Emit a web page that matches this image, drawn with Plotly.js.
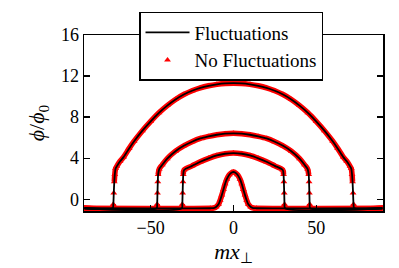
<!DOCTYPE html>
<html>
<head>
<meta charset="utf-8">
<script src="https://cdn.plot.ly/plotly-3.0.1.min.js"></script>
<style>html,body{margin:0;padding:0;background:#fff;}#chart{width:399px;height:268px;}</style>
</head>
<body>
<div id="chart"></div>
<script>
// Curve 1: narrow central bump
const bumpX = [-90, -14, -12, -10.5, -9, -8, -7, -6, -5, -4, -2.5, -1, 0, 1, 2.5, 4, 5, 6, 7, 8, 9, 10.5, 12, 14, 90];
const bumpY = [-0.88, -0.88, -0.86, -0.75, -0.5, -0.1, 0.4, 0.95, 1.5, 1.95, 2.38, 2.6, 2.65, 2.6, 2.38, 1.95, 1.5, 0.95, 0.4, -0.1, -0.5, -0.75, -0.86, -0.88, -0.88];

// Curve 2: inner dome (edges near ±31)
const innerX = [-90, -31.2, -30.9, -30.7, -30.5, -30.3, -29.8, -25, -20, -15, -10, -5, 0, 5, 10, 15, 20, 25, 29.8, 30.3, 30.5, 30.7, 30.9, 31.2, 90];
const innerY = [-0.88, -0.88, -0.5, 0.6, 1.7, 2.4, 2.85, 3.25, 3.65, 3.98, 4.26, 4.43, 4.49, 4.43, 4.26, 3.98, 3.65, 3.25, 2.85, 2.4, 1.7, 0.6, -0.5, -0.88, -0.88];

// Curve 3: middle dome (edges near ±46)
const midX = [-90, -46.4, -46.1, -45.9, -45.7, -45.5, -44.8, -43, -40, -35, -30, -25, -20, -15, -10, -5, 0, 5, 10, 15, 20, 25, 30, 35, 40, 43, 44.8, 45.5, 45.7, 45.9, 46.1, 46.4, 90];
const midY = [-0.88, -0.88, -0.5, 0.6, 1.7, 2.4, 2.95, 3.35, 3.95, 4.68, 5.2, 5.6, 5.92, 6.12, 6.28, 6.38, 6.42, 6.38, 6.28, 6.12, 5.92, 5.6, 5.2, 4.68, 3.95, 3.35, 2.95, 2.4, 1.7, 0.6, -0.5, -0.88, -0.88];

// Curve 4: outer dome (edges near ±72)
const outerX = [-90, -73, -72.6, -72.3, -72, -71.7, -71.2, -70.5, -68.5, -66.4, -63, -60, -55, -50, -45, -40, -35, -30, -25, -20, -15, -10, -5, 0, 5, 10, 15, 20, 25, 30, 35, 40, 45, 50, 55, 60, 63, 66.4, 68.5, 70.5, 71.2, 71.7, 72, 72.3, 72.6, 73, 90];
const outerY = [-0.88, -0.88, -0.5, 0.6, 1.7, 2.4, 3.0, 3.2, 3.7, 4.1, 4.95, 5.65, 6.68, 7.59, 8.42, 9.12, 9.72, 10.2, 10.57, 10.85, 11.05, 11.19, 11.28, 11.31, 11.28, 11.19, 11.05, 10.85, 10.57, 10.2, 9.72, 9.12, 8.42, 7.59, 6.68, 5.65, 4.95, 4.1, 3.7, 3.2, 3.0, 2.4, 1.7, 0.6, -0.5, -0.88, -0.88];

const xTicks = [-50, 0, 50];
const yTicks = [0, 4, 8, 12, 16];

const curves = [[bumpX, bumpY], [innerX, innerY], [midX, midY], [outerX, outerY]];

// band copy of a curve: break it where the curve drops steeply
function bandOf(xs, ys) {
  const bx = [], by = [];
  for (let i = 0; i < xs.length; i++) {
    if (i > 0) {
      const s = Math.abs((ys[i] - ys[i-1]) / (xs[i] - xs[i-1]));
      if (s > 3) { bx.push(null); by.push(null); }
    }
    bx.push(xs[i]); by.push(ys[i]);
  }
  return [bx, by];
}

const traces = [];
curves.forEach((c, k) => {
  const b = bandOf(c[0], c[1]);
  traces.push({x: b[0], y: b[1], type: 'scatter', mode: 'lines', connectgaps: false,
    line: {color: '#ff0000', width: 5.5, shape: 'spline', smoothing: 0.8}, showlegend: false, hoverinfo: 'skip'});
});
curves.forEach((c, k) => {
  traces.push({x: c[0], y: c[1], type: 'scatter', mode: 'markers', name: 'No Fluctuations',
    legendgroup: 'nf', showlegend: k === 0, legendrank: 2,
    marker: {symbol: 'triangle-up', size: 6, color: '#ff0000'}});
});
curves.forEach((c, k) => {
  traces.push({x: c[0], y: c[1], type: 'scatter', mode: 'lines', name: 'Fluctuations',
    legendgroup: 'f', showlegend: k === 0, legendrank: 1,
    line: {color: '#000000', width: 1.8, shape: 'spline', smoothing: 0.8}});
});

const font = "'Liberation Serif', 'Times New Roman', serif";
const layout = {
  width: 399, height: 268,
  margin: {l: 84, r: 16, t: 26, b: 57},
  paper_bgcolor: '#ffffff', plot_bgcolor: '#ffffff',
  font: {family: font, size: 17, color: '#000'},
  showlegend: true,
  legend: {x: 0.184, y: 0.935, xanchor: 'left', yanchor: 'middle',
    bgcolor: '#ffffff', bordercolor: '#000000', borderwidth: 1.5,
    itemwidth: 44,
    font: {family: font, size: 19, color: '#000'}, tracegroupgap: 0},
  xaxis: {range: [-90.3, 90.4], tickvals: xTicks, ticktext: xTicks.map(v => v < 0 ? '\u2212' + Math.abs(v) : String(v)),
    ticks: 'inside', ticklen: 6, tickwidth: 1.3, tickcolor: '#000',
    showline: true, linecolor: '#000', linewidth: 1.5, mirror: 'ticks',
    showgrid: false, zeroline: false,
    tickfont: {family: font, size: 18, color: '#000'},
    title: {text: '<i>mx</i><sub>\u22A5</sub>', font: {family: font, size: 22, color: '#000'}, standoff: 6}},
  yaxis: {range: [-1.15, 16], tickvals: yTicks,
    ticks: 'inside', ticklen: 6, tickwidth: 1.3, tickcolor: '#000',
    showline: true, linecolor: '#000', linewidth: 1.5, mirror: 'ticks',
    showgrid: false, zeroline: false,
    tickfont: {family: font, size: 18, color: '#000'},
    title: {text: '<i>\u03D5</i>/<i>\u03D5</i><sub>0</sub>', font: {family: font, size: 22, color: '#000'}, standoff: 10}}
};

Plotly.newPlot('chart', traces, layout, {displayModeBar: false, staticPlot: true});
</script>
</body>
</html>
